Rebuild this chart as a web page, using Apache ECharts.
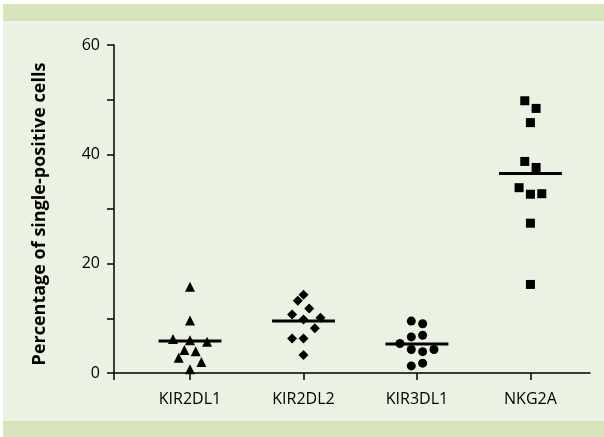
<!DOCTYPE html>
<html>
<head>
<meta charset="utf-8">
<script src="https://cdn.jsdelivr.net/npm/echarts@6/dist/echarts.min.js"></script>
<style>
  html, body { margin: 0; padding: 0; background: #fff; }
  #container { width: 604px; height: 437px; }
</style>
</head>
<body>
<div id="container"></div>
<script>
// groups on the x axis (positions 1..4)
var categories = ['KIR2DL1', 'KIR2DL2', 'KIR3DL1', 'NKG2A'];
var symbols = ['triangle', 'diamond', 'circle', 'rect'];

// percentage values
var kir2dl1 = [15.8, 9.6, 6.2, 6.0, 5.7, 4.2, 4.0, 2.8, 2.0, 0.7];
var kir2dl2 = [14.3, 13.2, 11.8, 10.7, 9.8, 10.1, 8.2, 6.3, 6.3, 3.3];
var kir3dl1 = [9.5, 9.0, 6.6, 6.9, 5.4, 4.3, 3.9, 4.3, 1.3, 1.8];
var nkg2a = [49.8, 48.4, 45.8, 38.7, 37.6, 33.9, 32.7, 32.8, 27.4, 16.2];

// horizontal spread of the dots around each group (in group units)
var spread1 = [0, 0, -0.15, 0, 0.15, -0.05, 0.05, -0.1, 0.1, 0];
var spread2 = [0, -0.05, 0.05, -0.1, 0, 0.15, 0.1, -0.1, 0, 0];
var spread3 = [-0.05, 0.05, -0.05, 0.05, -0.15, -0.05, 0.05, 0.15, -0.05, 0.05];
var spread4 = [-0.05, 0.05, 0, -0.05, 0.05, -0.1, 0, 0.1, 0, 0];

// mean line per group
var means = [5.85, 9.5, 5.3, 36.5];

var yTicks = [0, 20, 40, 60];

var groups = [kir2dl1, kir2dl2, kir3dl1, nkg2a];
var spreads = [spread1, spread2, spread3, spread4];
var symSize = [10, 10, 9, 9];

var series = [];
// mean bars first so the dots sit on top
means.forEach(function (m, i) {
  series.push({
    type: 'line',
    data: [[i + 1 - 0.277, m], [i + 1 + 0.277, m]],
    symbol: 'none',
    lineStyle: { color: '#000', width: 3 },
    silent: true,
    z: 2
  });
});
groups.forEach(function (vals, i) {
  var pts = vals.map(function (v, k) {
    return [i + 1 + spreads[i][k], v];
  });
  series.push({
    name: categories[i],
    type: 'scatter',
    data: pts,
    symbol: symbols[i],
    symbolSize: symSize[i],
    itemStyle: { color: '#000', opacity: 1 },
    z: 3
  });
});

var myChart = echarts.init(document.getElementById('container'));
var option = {
  animation: false,
  backgroundColor: '#fff',
  textStyle: { fontFamily: 'Open Sans' },
  graphic: [
    { type: 'rect', shape: { x: 3, y: 4, width: 601, height: 433 }, style: { fill: '#ecf2e3' }, z: -10 },
    { type: 'rect', shape: { x: 3, y: 4, width: 601, height: 17 }, style: { fill: '#d6e4bb' }, z: -9 },
    { type: 'rect', shape: { x: 3, y: 421, width: 601, height: 16 }, style: { fill: '#d6e4bb' }, z: -9 }
  ],
  grid: { left: 114, right: 14, top: 45, bottom: 64 },
  xAxis: {
    type: 'value',
    min: 0.33,
    max: 4.525,
    splitLine: { show: false },
    axisLine: { lineStyle: { color: '#000', width: 1.5 } },
    axisTick: { customValues: [0.33, 1, 2, 3, 4], length: 7, lineStyle: { color: '#000', width: 1.5 } },
    axisLabel: {
      customValues: [1, 2, 3, 4],
      formatter: function (v) { return categories[Math.round(v) - 1]; },
      color: '#000',
      fontSize: 16,
      margin: 18
    }
  },
  yAxis: {
    type: 'value',
    min: 0,
    max: 60,
    interval: 10,
    name: 'Percentage of single-positive cells',
    nameLocation: 'middle',
    nameGap: 65,
    nameTextStyle: { fontSize: 18, fontWeight: 'bold', color: '#000', padding: [0, 10, 0, 0] },
    splitLine: { show: false },
    axisLine: { show: true, lineStyle: { color: '#000', width: 1.5 } },
    axisTick: { show: true, length: 7, lineStyle: { color: '#000', width: 1.5 } },
    axisLabel: {
      color: '#000',
      fontSize: 16,
      margin: 14,
      formatter: function (v) { return yTicks.indexOf(v) >= 0 ? String(v) : ''; }
    }
  },
  series: series
};
myChart.setOption(option);
</script>
</body>
</html>
